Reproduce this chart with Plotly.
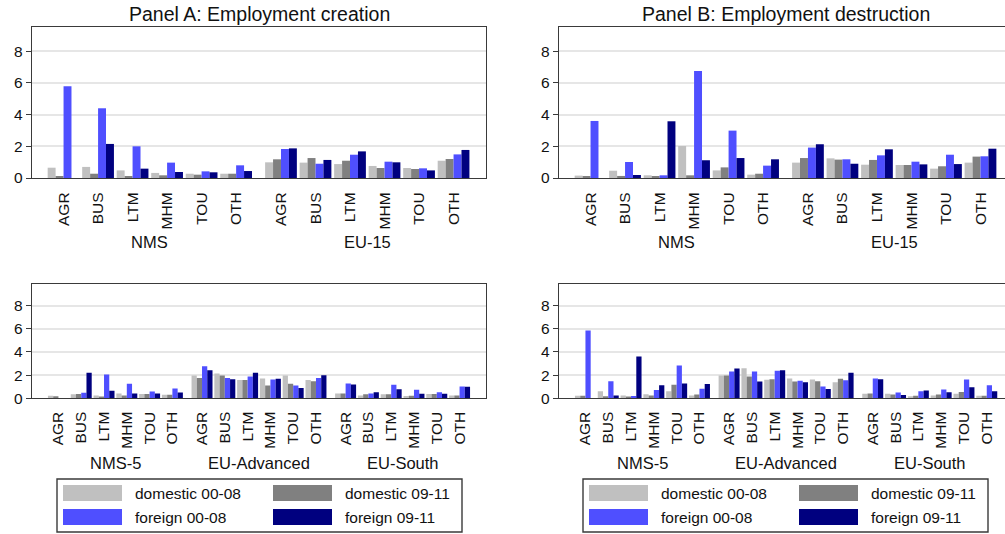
import plotly.graph_objects as go

# ---------------------------------------------------------------- data
sectors = ["AGR", "BUS", "LTM", "MHM", "TOU", "OTH"]
top_regions = ["NMS", "EU-15"]
bottom_regions = ["NMS-5", "EU-Advanced", "EU-South"]
series_names = ["domestic 00-08", "domestic 09-11", "foreign 00-08", "foreign 09-11"]
series_colors = ["#c0c0c0", "#808080", "#4f4fff", "#00007f"]
panel_titles = ["Panel A: Employment creation", "Panel B: Employment destruction"]

# Panel A, NMS vs EU-15 (sector order repeats per region)
creation_top_dom_00_08 = [0.65, 0.70, 0.48, 0.32, 0.27, 0.27, 0.99, 0.97, 0.88, 0.76, 0.63, 1.09]
creation_top_dom_09_11 = [0.10, 0.27, 0.10, 0.17, 0.21, 0.27, 1.18, 1.26, 1.09, 0.63, 0.57, 1.20]
creation_top_for_00_08 = [5.79, 4.40, 2.00, 0.97, 0.42, 0.80, 1.83, 0.90, 1.47, 1.03, 0.61, 1.49]
creation_top_for_09_11 = [0.00, 2.15, 0.59, 0.38, 0.36, 0.44, 1.87, 1.14, 1.68, 0.99, 0.48, 1.77]

# Panel B, NMS vs EU-15
destruction_top_dom_00_08 = [0.15, 0.46, 0.17, 2.02, 0.48, 0.21, 0.97, 1.24, 0.84, 0.82, 0.59, 0.97]
destruction_top_dom_09_11 = [0.10, 0.13, 0.10, 0.17, 0.67, 0.27, 1.26, 1.16, 1.14, 0.82, 0.74, 1.35]
destruction_top_for_00_08 = [3.60, 1.01, 0.17, 6.76, 2.99, 0.78, 1.92, 1.18, 1.43, 1.03, 1.47, 1.37]
destruction_top_for_09_11 = [0.00, 0.19, 3.58, 1.12, 1.26, 1.18, 2.13, 0.90, 1.81, 0.86, 0.88, 1.85]

# Panel A, NMS-5 / EU-Advanced / EU-South
creation_bottom_dom_00_08 = [0.23, 0.35, 0.25, 0.42, 0.38, 0.30,
                             1.97, 2.14, 1.57, 1.70, 1.97, 1.57,
                             0.42, 0.25, 0.35, 0.20, 0.38, 0.25]
creation_bottom_dom_09_11 = [0.18, 0.38, 0.15, 0.25, 0.38, 0.30,
                             1.75, 1.97, 1.57, 1.10, 1.25, 1.48,
                             0.42, 0.35, 0.35, 0.22, 0.38, 0.25]
creation_bottom_for_00_08 = [0.00, 0.48, 2.05, 1.25, 0.58, 0.85,
                             2.77, 1.75, 1.88, 1.62, 1.10, 1.75,
                             1.28, 0.42, 1.17, 0.73, 0.52, 1.02]
creation_bottom_for_09_11 = [0.00, 2.20, 0.65, 0.42, 0.42, 0.50,
                             2.42, 1.65, 2.20, 1.68, 0.90, 2.00,
                             1.20, 0.52, 0.78, 0.40, 0.40, 1.00]

# Panel B, NMS-5 / EU-Advanced / EU-South
destruction_bottom_dom_00_08 = [0.22, 0.60, 0.25, 0.35, 0.60, 0.25,
                                1.97, 2.60, 1.60, 1.72, 1.63, 1.38,
                                0.40, 0.40, 0.17, 0.25, 0.40, 0.22]
destruction_bottom_dom_09_11 = [0.22, 0.17, 0.15, 0.25, 1.17, 0.32,
                                1.97, 1.88, 1.65, 1.45, 1.48, 1.68,
                                0.42, 0.32, 0.22, 0.32, 0.55, 0.22]
destruction_bottom_for_00_08 = [5.85, 1.48, 0.20, 0.72, 2.83, 0.83,
                                2.32, 2.32, 2.37, 1.52, 1.02, 1.55,
                                1.72, 0.50, 0.60, 0.75, 1.62, 1.12]
destruction_bottom_for_09_11 = [0.00, 0.25, 3.60, 1.12, 1.28, 1.23,
                                2.57, 1.45, 2.42, 1.38, 0.80, 2.20,
                                1.65, 0.28, 0.67, 0.52, 0.95, 0.60]

y_ticks = [0, 2, 4, 6, 8]

# ---------------------------------------------------------------- layout helpers
W, H = 1005, 534
FONT = "Liberation Sans, Arial, Helvetica, sans-serif"
FRAME = "#3a3a3a"
GRID = "#e6e6e6"
REGION_GAP = 0.3


def fx(p):
    return p / W


def fy(p):
    return 1 - p / H


def centers(n_regions):
    return [s + g * (len(sectors) + REGION_GAP)
            for g in range(n_regions) for s in range(len(sectors))]


panels = [
    dict(ax="1", regions=top_regions, x_px=(32, 486), y_px=(27, 178), ymax=9.53,
         xrange=(-0.914, 12.24), mirror_y=True, label_y=242, title=panel_titles[0],
         tick_size=15.5, standoff=7,
         series=[creation_top_dom_00_08, creation_top_dom_09_11,
                 creation_top_for_00_08, creation_top_for_09_11]),
    dict(ax="2", regions=top_regions, x_px=(559, 1005), y_px=(27, 178), ymax=9.53,
         xrange=(-0.914, 12.01), mirror_y=False, label_y=242, title=panel_titles[1],
         tick_size=15.5, standoff=7,
         series=[destruction_top_dom_00_08, destruction_top_dom_09_11,
                 destruction_top_for_00_08, destruction_top_for_09_11]),
    dict(ax="3", regions=bottom_regions, x_px=(32, 486), y_px=(284, 398.3), ymax=9.87,
         xrange=(-1.16, 18.76), mirror_y=True, label_y=463, title=None,
         tick_size=15.5, standoff=6,
         series=[creation_bottom_dom_00_08, creation_bottom_dom_09_11,
                 creation_bottom_for_00_08, creation_bottom_for_09_11]),
    dict(ax="4", regions=bottom_regions, x_px=(559, 1005), y_px=(284, 398.3), ymax=9.87,
         xrange=(-1.16, 18.40), mirror_y=False, label_y=463, title=None,
         tick_size=15.5, standoff=6,
         series=[destruction_bottom_dom_00_08, destruction_bottom_dom_09_11,
                 destruction_bottom_for_00_08, destruction_bottom_for_09_11]),
]

fig = go.Figure()
annotations = []
shapes = []
layout_axes = {}

for p in panels:
    xs = centers(len(p["regions"]))
    xname = "x" if p["ax"] == "1" else "x" + p["ax"]
    yname = "y" if p["ax"] == "1" else "y" + p["ax"]
    for name, color, vals in zip(series_names, series_colors, p["series"]):
        fig.add_trace(go.Bar(x=xs, y=vals, name=name, marker_color=color,
                             marker_line_width=0, showlegend=False,
                             xaxis=xname, yaxis=yname))

    xkey = "xaxis" if p["ax"] == "1" else "xaxis" + p["ax"]
    ykey = "yaxis" if p["ax"] == "1" else "yaxis" + p["ax"]
    layout_axes[xkey] = dict(
        domain=[fx(p["x_px"][0]), fx(p["x_px"][1])], range=list(p["xrange"]),
        anchor=yname, tickmode="array", tickvals=xs,
        ticktext=sectors * len(p["regions"]), tickangle=-90, ticks="",
        ticklabelstandoff=p["standoff"], automargin=False,
        showline=True, linecolor=FRAME, linewidth=1.4, mirror=True,
        showgrid=False, zeroline=False,
        tickfont=dict(family=FONT, size=p["tick_size"], color="#111"),
    )
    layout_axes[ykey] = dict(
        domain=[fy(p["y_px"][1]), fy(p["y_px"][0])], range=[0, p["ymax"]],
        anchor=xname, tickmode="array", tickvals=y_ticks, automargin=False,
        ticks="outside", ticklen=5, tickcolor=FRAME, tickwidth=1.2,
        showline=True, linecolor=FRAME, linewidth=1.4, mirror=p["mirror_y"],
        showgrid=True, gridcolor=GRID, gridwidth=1.5, zeroline=False,
        tickfont=dict(family=FONT, size=15.5, color="#111"),
    )

    # region names under the sector labels
    n = len(sectors)
    for g, region in enumerate(p["regions"]):
        cx = (xs[g * n] + xs[g * n + n - 1]) / 2
        annotations.append(dict(x=cx, xref=xname, y=fy(p["label_y"]), yref="paper",
                                text=region, showarrow=False, xanchor="center",
                                yanchor="middle",
                                font=dict(family=FONT, size=16.5, color="#111")))

    if p["title"]:
        cx = (fx(p["x_px"][0]) + fx(p["x_px"][0] + 454)) / 2
        annotations.append(dict(x=cx, xref="paper", y=fy(14), yref="paper",
                                text=p["title"], showarrow=False, xanchor="center",
                                yanchor="middle",
                                font=dict(family=FONT, size=19.5, color="#111")))

# ---------------------------------------------------------------- legends
for x0 in (57, 583):
    shapes.append(dict(type="rect", xref="paper", yref="paper",
                       x0=fx(x0), x1=fx(x0 + 405), y0=fy(532), y1=fy(479),
                       line=dict(color=FRAME, width=1.4), fillcolor="white"))
    for i, (name, color) in enumerate(zip(series_names, series_colors)):
        col, row = i % 2, i // 2
        sx = x0 + 6 + col * 210
        sy = 485 + row * 24
        shapes.append(dict(type="rect", xref="paper", yref="paper",
                           x0=fx(sx), x1=fx(sx + 59), y0=fy(sy + 16), y1=fy(sy),
                           line=dict(width=0), fillcolor=color))
        annotations.append(dict(x=fx(sx + 70), xref="paper", y=fy(sy + 8), yref="paper",
                                text=name, showarrow=False, xanchor="left",
                                yanchor="middle",
                                font=dict(family=FONT, size=15.5, color="#111")))

fig.update_layout(
    width=W, height=H, margin=dict(l=0, r=0, t=0, b=0, pad=0, autoexpand=False),
    paper_bgcolor="white", plot_bgcolor="white",
    barmode="group", bargap=0.08, bargroupgap=0,
    font=dict(family=FONT, color="#111"),
    annotations=annotations, shapes=shapes, showlegend=False,
    **layout_axes,
)

fig.write_html("out.html")
